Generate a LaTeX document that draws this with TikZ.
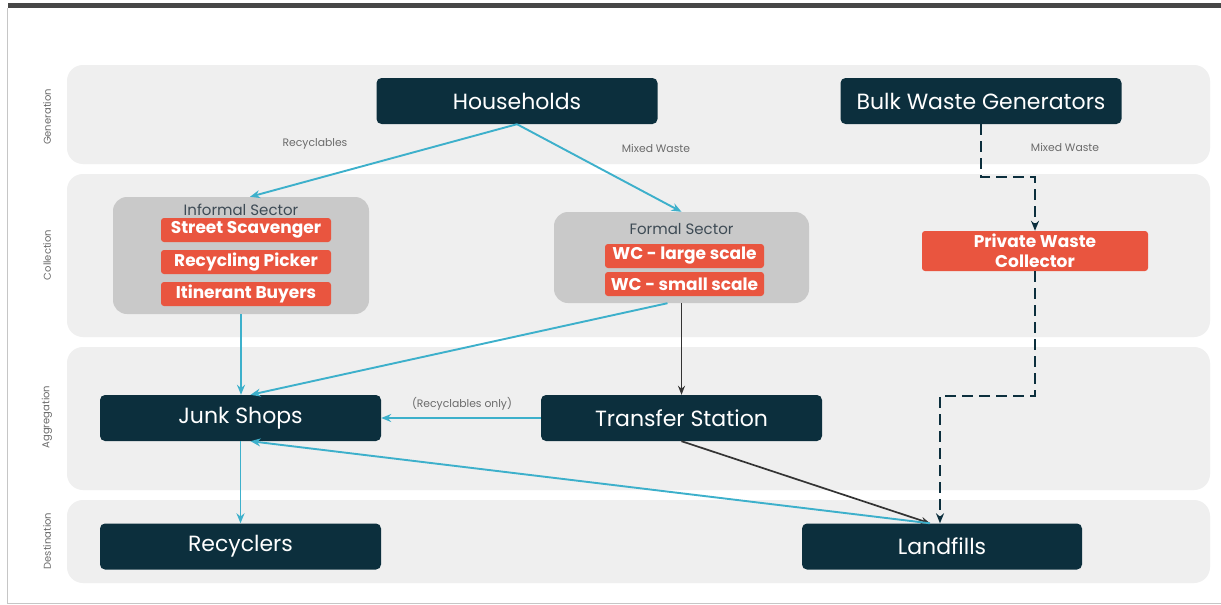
\documentclass[tikz,border=0pt]{standalone}
\usepackage{fontspec}
\setmainfont{Poppins}
\usetikzlibrary{arrows.meta}

\definecolor{navy}{HTML}{0C2F3D}
\definecolor{bandgray}{HTML}{EFEFEF}
\definecolor{groupgray}{HTML}{C9C9C9}
\definecolor{redbox}{HTML}{E9553F}
\definecolor{flowblue}{HTML}{3DB0CB}
\definecolor{darkline}{HTML}{333333}
\definecolor{labelgray}{HTML}{6B6B6B}
\definecolor{titlegray}{HTML}{3E4B55}

\begin{document}
\begin{tikzpicture}[
        x=1pt, y=-1pt, % one unit per pixel, y going down
        band/.style={fill=bandgray, rounded corners=16pt},
        lane/.style={rotate=90, font=\fontsize{10}{11}\selectfont, text=labelgray},
        stage/.style={fill=navy, text=white, rounded corners=5pt, minimum width=281pt, minimum height=46pt, inner sep=0pt, font=\fontsize{22}{25}\selectfont},
        group/.style={fill=groupgray, rounded corners=14pt, inner sep=0pt},
        grouptitle/.style={text=titlegray, font=\fontsize{15}{17}\selectfont, inner sep=0pt},
        actor/.style={fill=redbox, text=white, rounded corners=3pt, minimum height=24pt, inner sep=0pt, font=\bfseries\fontsize{17}{19}\selectfont},
        note/.style={text=labelgray, font=\fontsize{10.8}{12}\selectfont, inner sep=0pt},
        flow/.style={draw=flowblue, line width=1.9pt, -{Stealth[length=10pt,width=8pt]}},
        haul/.style={draw=darkline, line width=1.7pt, -{Stealth[length=9pt,width=7pt]}},
        contract/.style={draw=navy, line width=2pt, dash pattern=on 11pt off 6pt, -{Stealth[length=10pt,width=8pt]}}
    ]
    \useasboundingbox (0,0) rectangle (1221,605);
    \fill[white] (0,0) rectangle (1221,605);

    % frame
    \fill[darkline!90] (8,3) rectangle (1221,8);
    \draw[gray!45, line width=0.8pt] (7,8) -- (7,603) -- (1221,603);

    % bands
    \fill[band] (67,65) rectangle (1210,164);
    \fill[band] (67,174) rectangle (1210,337);
    \fill[band] (67,347) rectangle (1210,490);
    \fill[band] (67,500) rectangle (1210,583);

    \node[lane] (lgen) at (47,117) {Generation};
    \node[lane] (lcol) at (47,255) {Collection};
    \node[lane] (lagg) at (47,417) {Aggregation};
    \node[lane] (ldst) at (47,541) {Destination};

    % generation
    \node[stage] (households) at (517,101) {Households};
    \node[stage] (bulk) at (981,101) {Bulk Waste Generators};

    % collection
    \node[group, minimum width=256pt, minimum height=117pt] (informal) at (241,255.5) {};
    \node[grouptitle] (informaltitle) at (241,210) {Informal Sector};
    \node[actor, minimum width=170pt] (scavenger) at (246,230) {Street Scavenger};
    \node[actor, minimum width=170pt] (picker) at (246,262) {Recycling Picker};
    \node[actor, minimum width=170pt] (buyers) at (246,294) {Itinerant Buyers};

    \node[group, minimum width=255pt, minimum height=91pt] (formal) at (681.5,257.5) {};
    \node[grouptitle] (formaltitle) at (681.5,229) {Formal Sector};
    \node[actor, minimum width=159pt] (wclarge) at (684.5,256) {WC - large scale};
    \node[actor, minimum width=159pt] (wcsmall) at (684.5,284) {WC - small scale};

    \node[actor, minimum width=226pt, minimum height=40pt, align=center, font=\bfseries\fontsize{17}{20}\selectfont] (private) at (1035,251) {Private Waste\\Collector};

    % aggregation
    \node[stage] (junk) at (240.5,418) {Junk Shops};
    \node[stage] (transfer) at (681.5,418) {Transfer Station};

    % destination
    \node[stage] (recyclers) at (240.5,546.5) {Recyclers};
    \node[stage, minimum width=280pt] (landfills) at (942,546.5) {Landfills};

    % flows
    \draw[flow] (households.south) -- ([xshift=9pt]informal.north);
    \node[note] (lrec) at (315,144) {Recyclables};
    \draw[flow] (households.south) -- (formal.north);
    \node[note] (lmix) at (656,148) {Mixed Waste};

    \coordinate (bend1) at (981,177);
    \draw[contract] (bulk.south) -- (bend1) -| (private.north);
    \node[note] (lmixbulk) at (1065,147) {Mixed Waste};

    \coordinate (bend2) at (940,396);
    \draw[contract] (private.south) |- (bend2) -- (bend2 |- landfills.north);

    \draw[flow] (informal.south) -- (informal.south |- junk.north);
    \draw[flow] ([xshift=-14pt]formal.south) -- ([xshift=10pt]junk.north);
    \draw[haul] (formal.south) -- (transfer.north);

    \draw[flow] (transfer.west) -- (junk.east);
    \node[note] (lonly) at (462,404) {(Recyclables only)};

    \coordinate (landin) at ([xshift=-12pt]landfills.north);
    \draw[haul] (transfer.south) -- (landin);
    \draw[flow] (landin) -- ([xshift=10pt]junk.south);
    \draw[flow] (junk.south) -- (recyclers.north);
\end{tikzpicture}
\end{document}
